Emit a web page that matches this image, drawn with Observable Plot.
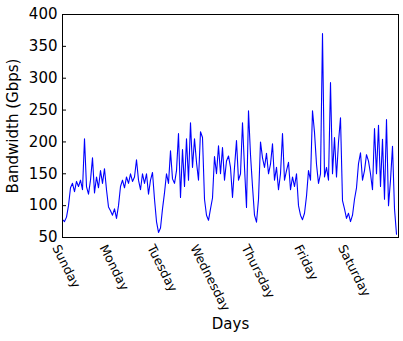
<!DOCTYPE html>
<html><head><meta charset="utf-8">
<script src="https://cdn.jsdelivr.net/npm/d3@7"></script>
<script src="https://cdn.jsdelivr.net/npm/@observablehq/plot@0.6"></script>
<style>body{margin:0;background:#fff} svg{display:block}</style>
</head><body><div id="chart"></div>
<script>
const days = ["Sunday","Monday","Tuesday","Wednesday","Thursday","Friday","Saturday"];
// hourly bandwidth (Gbps), Sunday 00:00 .. Saturday 23:00
const sunday    = [78,75,82,100,128,135,122,138,130,140,125,205,130,118,140,175,120,145,128,155,135,158,125,98];
const monday    = [92,85,95,80,100,130,140,128,145,135,150,138,145,172,140,125,150,135,150,118,140,152,110,75];
const tuesday   = [58,65,95,120,150,135,186,142,135,155,213,113,188,130,205,140,230,160,205,168,140,216,207,110];
const wednesday = [85,77,95,112,177,150,194,150,191,140,170,178,160,113,160,202,140,150,230,160,97,249,180,130];
const thursday  = [85,74,110,200,175,160,182,150,165,197,140,160,125,150,213,140,155,168,125,145,130,150,100,85];
const friday    = [78,88,115,155,140,249,215,165,135,150,370,145,160,140,293,150,207,145,200,238,108,95,80,88];
const saturday  = [75,85,110,128,166,183,140,155,180,170,150,125,221,150,226,130,204,110,235,100,140,193,95,55];
const bandwidth = [...sunday, ...monday, ...tuesday, ...wednesday, ...thursday, ...friday, ...saturday];
const yTicks = [50,100,150,200,250,300,350,400];
const yLabel = "Bandwidth (Gbps)";
const xLabel = "Days";

const W = 403, H = 341, mL = 62, mR = 5, mT = 14, mB = 104;
const FONT = "DejaVu Sans";
const FS = 15, DFS = 12.5, ROT = 63;
const data = bandwidth.map((v, i) => ({t: i / 24, v}));

const ctx = document.createElement("canvas").getContext("2d");
ctx.font = `${DFS}px "${FONT}"`;
const ang = ROT * Math.PI / 180;
const dayMarks = days.map((d, i) => Plot.text([d], {
  x: () => i, frameAnchor: "bottom", rotate: ROT, textAnchor: "start",
  dy: 10, dx: -ctx.measureText(d).width * Math.cos(ang) / 2,
  fontSize: DFS, fill: "black"
}));

const chart = Plot.plot({
  width: W, height: H,
  marginLeft: mL, marginRight: mR, marginTop: mT, marginBottom: mB,
  style: {fontFamily: FONT, background: "white", color: "black"},
  x: {domain: [0, 7], axis: null},
  y: {domain: [50, 400], axis: null, label: null},
  marks: [
    Plot.line(data, {x: "t", y: "v", stroke: "#0000ff", strokeWidth: 1.1}),
    Plot.frame({stroke: "black", strokeWidth: 1}),
    Plot.tickY(yTicks, {y: d => d, stroke: "black", insetRight: W - mL - mR - 4}),
    Plot.axisY(yTicks, {anchor: "left", tickSize: 0, tickPadding: 5, fontSize: FS, label: null, tickFormat: d => String(d), fill: "black"}),
    ...dayMarks,
    Plot.text([yLabel], {frameAnchor: "left", textAnchor: "middle", dx: -49, rotate: -90, fontSize: FS, fill: "black"}),
    Plot.text([xLabel], {frameAnchor: "bottom", textAnchor: "middle", dy: 91, fontSize: FS, fill: "black"})
  ]
});
document.getElementById("chart").append(chart);
</script>
</body></html>
